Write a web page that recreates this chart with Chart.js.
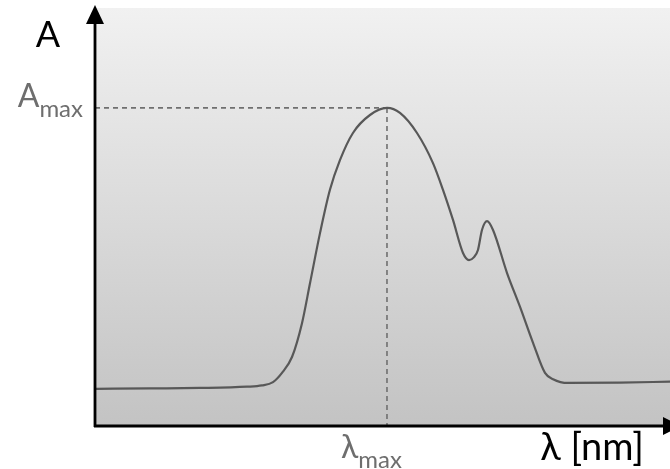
<!DOCTYPE html>
<html>
<head>
<meta charset="utf-8">
<script src="https://cdn.jsdelivr.net/npm/chart.js@4"></script>
<style>
  html, body { margin: 0; padding: 0; background: #fff; }
  #wrap { width: 670px; height: 469px; }
</style>
</head>
<body>
<div id="wrap"><canvas id="spectrum" width="670" height="469"></canvas></div>
<script>
// wavelength (arbitrary nm scale) and absorbance
const wavelengths = [200.9, 247.8, 291.3, 332.2, 345.2, 354.8, 362.6, 371.3, 380.0, 387.0,
  395.7, 404.3, 413.0, 424.3, 439.1, 453.9, 465.2, 480.0, 493.9, 502.6,
  511.3, 520.0, 525.2, 529.6, 533.0, 536.5, 540.9, 546.1, 558.3, 569.6,
  580.9, 591.3, 598.3, 611.3, 656.5, 700.0];
const absorbance = [0.089, 0.090, 0.091, 0.094, 0.097, 0.105, 0.127, 0.165, 0.246, 0.342,
  0.462, 0.565, 0.636, 0.701, 0.744, 0.761, 0.749, 0.701, 0.629, 0.565,
  0.493, 0.414, 0.397, 0.404, 0.421, 0.469, 0.490, 0.469, 0.366, 0.285,
  0.199, 0.127, 0.112, 0.103, 0.104, 0.106];

const lambdaMax = 453.9;
const aMax = 0.761;
const xRange = [200, 700];
const yRange = [0, 1];

const axisLabelY = "A";
const axisLabelX = "λ [nm]";
const peakLabelY = ["A", "max"];
const peakLabelX = ["λ", "max"];

const fontFamily = "Lato, 'Open Sans', sans-serif";

const spectrum = wavelengths.map((x, i) => ({ x, y: absorbance[i] }));

const backgroundPlugin = {
  id: "background",
  beforeDatasetsDraw(chart) {
    const { ctx, chartArea: a } = chart;
    const grad = ctx.createLinearGradient(0, a.top, 0, a.bottom);
    grad.addColorStop(0, "#f1f1f1");
    grad.addColorStop(1, "#c3c3c3");
    ctx.save();
    ctx.fillStyle = grad;
    ctx.fillRect(a.left, a.top, a.right - a.left, a.bottom - a.top);
    ctx.restore();
  },
};

const drawSub = (ctx, parts, x, baseline, big, small, color, align) => {
  ctx.fillStyle = color;
  ctx.font = `${big}px ${fontFamily}`;
  const w1 = ctx.measureText(parts[0]).width;
  ctx.font = `${small}px ${fontFamily}`;
  const w2 = ctx.measureText(parts[1]).width;
  let start = x;
  if (align === "right") start = x - w1 - w2;
  if (align === "center") start = x - (w1 + w2) / 2;
  ctx.textAlign = "left";
  ctx.textBaseline = "alphabetic";
  ctx.font = `${big}px ${fontFamily}`;
  ctx.fillText(parts[0], start, baseline);
  ctx.font = `${small}px ${fontFamily}`;
  ctx.fillText(parts[1], start + w1, baseline + big * 0.3);
};

const axesPlugin = {
  id: "axes",
  afterDraw(chart) {
    const { ctx, chartArea: a } = chart;
    const x0 = a.left;
    const y0 = a.bottom;
    ctx.save();
    ctx.strokeStyle = "#000";
    ctx.fillStyle = "#000";
    ctx.lineWidth = 2.8;
    ctx.beginPath();
    ctx.moveTo(x0, y0 + 1);
    ctx.lineTo(x0, 22);
    ctx.moveTo(x0 - 1, y0);
    ctx.lineTo(a.right - 6, y0);
    ctx.stroke();
    // arrow heads
    ctx.beginPath();
    ctx.moveTo(x0, 5);
    ctx.lineTo(x0 - 9, 24);
    ctx.lineTo(x0 + 9, 24);
    ctx.closePath();
    ctx.fill();
    ctx.beginPath();
    ctx.moveTo(a.right + 11, y0);
    ctx.lineTo(a.right - 7, y0 - 9);
    ctx.lineTo(a.right - 7, y0 + 9);
    ctx.closePath();
    ctx.fill();

    // texts
    ctx.textBaseline = "alphabetic";
    ctx.font = `36px ${fontFamily}`;
    ctx.textAlign = "center";
    ctx.fillText(axisLabelY, 48, 47);
    ctx.textAlign = "right";
    ctx.font = `38px ${fontFamily}`;
    ctx.fillText(axisLabelX, 644, 460);

    const px = chart.scales.x.getPixelForValue(lambdaMax);
    const py = chart.scales.y.getPixelForValue(aMax);
    drawSub(ctx, peakLabelY, 83, py - 1, 32, 24, "#6e6e6e", "right");
    drawSub(ctx, peakLabelX, px - 46, 458, 32, 24, "#6e6e6e", "left");
    ctx.restore();
  },
};

new Chart(document.getElementById("spectrum"), {
  type: "line",
  data: {
    datasets: [
      {
        data: spectrum,
        borderColor: "#585858",
        borderWidth: 2.2,
        pointRadius: 0,
        cubicInterpolationMode: "monotone",
        fill: false,
        order: 1,
      },
      {
        data: [{ x: xRange[0], y: aMax }, { x: lambdaMax, y: aMax }],
        borderColor: "#6f6f6f",
        borderWidth: 1.6,
        borderDash: [5, 4],
        pointRadius: 0,
        order: 2,
      },
      {
        data: [{ x: lambdaMax, y: aMax }, { x: lambdaMax, y: yRange[0] }],
        borderColor: "#6f6f6f",
        borderWidth: 1.6,
        borderDash: [5, 4],
        pointRadius: 0,
        order: 2,
      },
    ],
  },
  options: {
    responsive: false,
    animation: false,
    layout: { padding: { left: 95, right: 0, top: 8, bottom: 43 } },
    plugins: { legend: { display: false }, tooltip: { enabled: false } },
    scales: {
      x: { type: "linear", min: xRange[0], max: xRange[1], display: false },
      y: { min: yRange[0], max: yRange[1], display: false },
    },
  },
  plugins: [backgroundPlugin, axesPlugin],
});
</script>
</body>
</html>
